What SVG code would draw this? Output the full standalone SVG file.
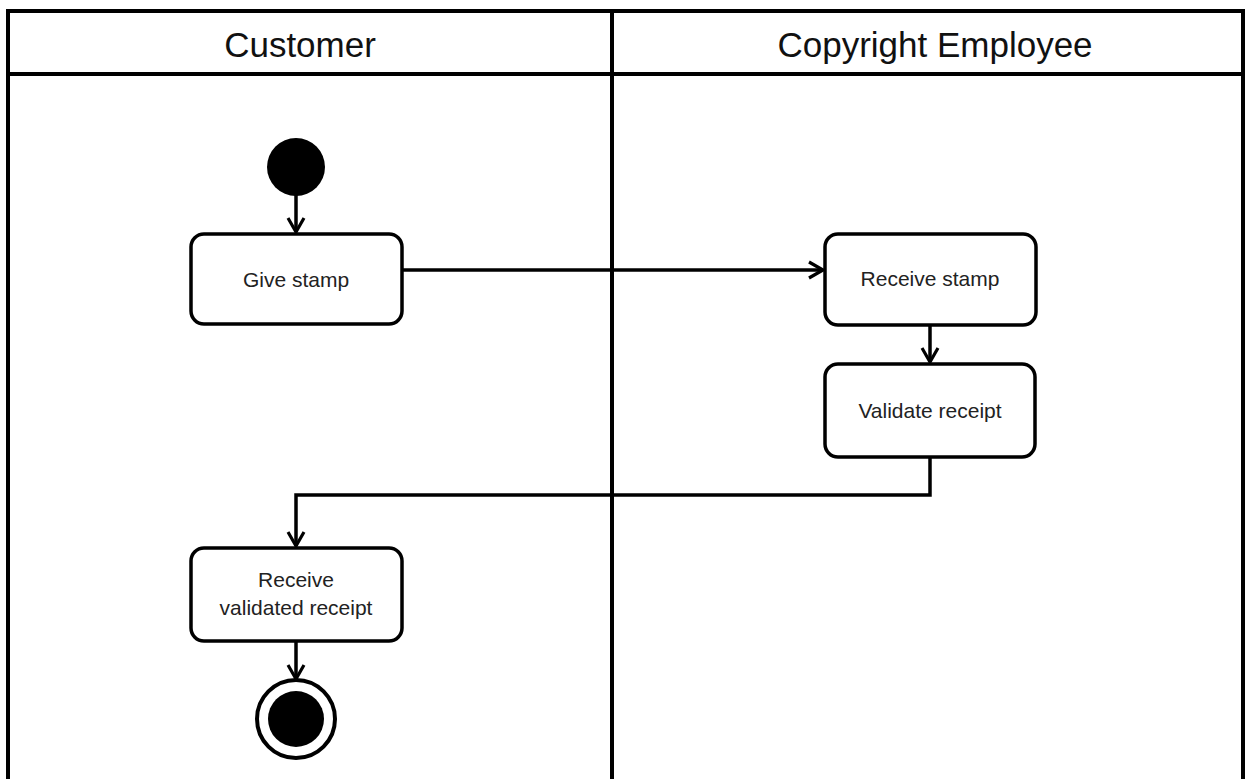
<svg xmlns="http://www.w3.org/2000/svg" width="1247" height="779" viewBox="0 0 1247 779">
<style>
.lane{fill:none;stroke:#000;stroke-width:4}
.act{fill:#fff;stroke:#000;stroke-width:3.5}
.hdr{font-family:"Liberation Sans",Arial,sans-serif;font-size:35px;fill:#111;text-anchor:middle}
.lbl{font-family:"Liberation Sans",Arial,sans-serif;font-size:21px;fill:#222;text-anchor:middle}
.edge{fill:none;stroke:#000;stroke-width:3.5;marker-end:url(#arr)}
</style>
<defs>
<marker id="arr" viewBox="0 0 18 20" refX="16" refY="10" markerWidth="18" markerHeight="20" markerUnits="userSpaceOnUse" orient="auto">
<path d="M2,2 L16,10 L2,18" fill="none" stroke="#000" stroke-width="3.2"/>
</marker>
</defs>
<rect width="1247" height="779" fill="#fff"/>
<g id="lanes">
<path class="lane" d="M8,781 V11 H1243 V781"/>
<line class="lane" x1="8" y1="74" x2="1243" y2="74"/>
<line class="lane" x1="612" y1="11" x2="612" y2="781"/>
<text class="hdr" x="300" y="57">Customer</text>
<text class="hdr" x="935" y="57">Copyright Employee</text>
</g>
<g id="connectors">
<path class="edge" d="M296,195 V232"/>
<path class="edge" d="M402,270 H823"/>
<path class="edge" d="M930,325 V362"/>
<path class="edge" d="M930,457 V495 H296 V546"/>
<path class="edge" d="M296,642 V679"/>
</g>
<g id="start"><circle cx="296" cy="167" r="29" fill="#000"/></g>
<g id="give-stamp"><rect class="act" x="191" y="234" width="211" height="90" rx="13"/><text class="lbl" x="296" y="287">Give stamp</text></g>
<g id="receive-stamp"><rect class="act" x="825" y="234" width="211" height="91" rx="13"/><text class="lbl" x="930" y="286">Receive stamp</text></g>
<g id="validate-receipt"><rect class="act" x="825" y="364" width="210" height="93" rx="13"/><text class="lbl" x="930" y="418">Validate receipt</text></g>
<g id="receive-validated"><rect class="act" x="191" y="548" width="211" height="93" rx="13"/><text class="lbl" x="296" y="587">Receive</text><text class="lbl" x="296" y="615">validated receipt</text></g>
<g id="end"><circle cx="296" cy="719" r="39" fill="#fff" stroke="#000" stroke-width="4"/><circle cx="296" cy="719" r="28" fill="#000"/></g>
</svg>
